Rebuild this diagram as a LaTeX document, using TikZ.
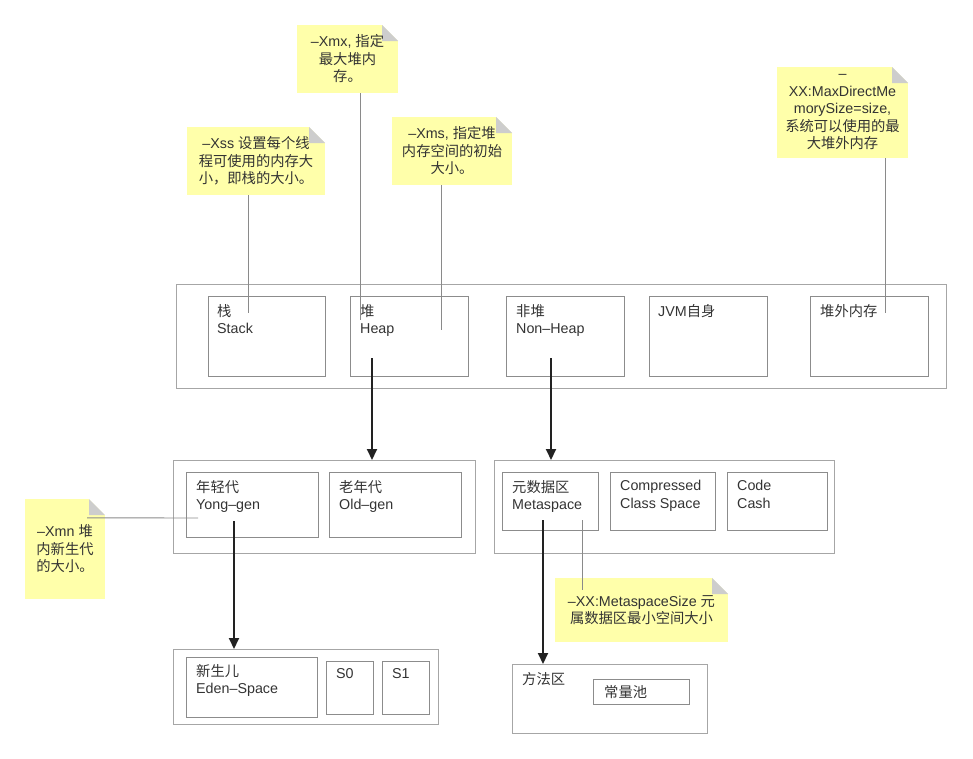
\documentclass[tikz,border=0pt]{standalone}
\usepackage{fontspec}
\setmainfont{Liberation Sans}
\newfontfamily\cjk{Noto Sans CJK SC}
\usetikzlibrary{arrows.meta}

\definecolor{notefill}{HTML}{FFFFAA}
\definecolor{foldgray}{HTML}{CDCDCD}
\definecolor{boxline}{HTML}{8C8C8C}
\definecolor{frameline}{HTML}{A6A6A6}
\definecolor{connline}{HTML}{8A8A8A}
\definecolor{txtcol}{HTML}{333333}
\definecolor{arrowcol}{HTML}{222222}

\tikzset{
  basefont/.style={font=\fontsize{14.3}{17.5}\selectfont, text=txtcol},
  frame/.style={draw=frameline, line width=1.4pt, anchor=north west, inner sep=0pt},
  inbox/.style={draw=boxline, line width=0.9pt, anchor=north west, inner sep=0pt},
  lbl/.style={basefont, anchor=north west, align=left, inner sep=0pt},
  note/.style={basefont, align=center, inner sep=0pt,
    path picture={
      \fill[notefill] (path picture bounding box.south west) rectangle (path picture bounding box.north east);
      \fill[white] ([xshift=-16pt]path picture bounding box.north east) -- (path picture bounding box.north east)
        -- ([yshift=-16pt]path picture bounding box.north east) -- cycle;
      \fill[foldgray] ([xshift=-16pt]path picture bounding box.north east)
        -- ([xshift=-16pt,yshift=-16pt]path picture bounding box.north east)
        -- ([yshift=-16pt]path picture bounding box.north east) -- cycle;
    }},
  conn/.style={draw=connline, line width=0.9pt},
  bigarrow/.style={draw=arrowcol, line width=1.9pt, -{Triangle[length=11pt,width=10pt]}}
}

\begin{document}
\begin{tikzpicture}[x=1pt,y=-1pt]
\useasboundingbox (0,0) rectangle (973,758);

% ---- top row: JVM memory areas ----
\node[frame, minimum width=770, minimum height=104] (top) at (176,284) {};
\node[inbox, minimum width=117, minimum height=80] (stack) at (208,296) {};
\node[inbox, minimum width=118, minimum height=80] (heap) at (350,296) {};
\node[inbox, minimum width=118, minimum height=80] (nonheap) at (506,296) {};
\node[inbox, minimum width=118, minimum height=80] (jvm) at (649,296) {};
\node[inbox, minimum width=118, minimum height=80] (offheap) at (810,296) {};
\node[lbl] (stackT) at ([xshift=9pt,yshift=-8pt]stack.north west) {{\cjk 栈}\\Stack};
\node[lbl] (heapT) at ([xshift=10pt,yshift=-8pt]heap.north west) {{\cjk 堆}\\Heap};
\node[lbl] (nonheapT) at ([xshift=10pt,yshift=-8pt]nonheap.north west) {{\cjk 非堆}\\Non–Heap};
\node[lbl] (jvmT) at ([xshift=9pt,yshift=-8pt]jvm.north west) {JVM{\cjk 自身}};
\node[lbl] (offheapT) at ([xshift=10pt,yshift=-8pt]offheap.north west) {{\cjk 堆外内存}};

% ---- heap generations ----
\node[frame, minimum width=302, minimum height=93] (gens) at (173,460) {};
\node[inbox, minimum width=132, minimum height=65] (young) at (186,472) {};
\node[inbox, minimum width=132, minimum height=65] (old) at (329,472) {};
\node[lbl] (youngT) at ([xshift=10pt,yshift=-8pt]young.north west) {{\cjk 年轻代}\\Yong–gen};
\node[lbl] (oldT) at ([xshift=10pt,yshift=-8pt]old.north west) {{\cjk 老年代}\\Old–gen};

% ---- non-heap areas ----
\node[frame, minimum width=340, minimum height=93] (nonheapAreas) at (494,460) {};
\node[inbox, minimum width=96, minimum height=58] (meta) at (502,472) {};
\node[inbox, minimum width=105, minimum height=58] (ccs) at (610,472) {};
\node[inbox, minimum width=100, minimum height=58] (code) at (727,472) {};
\node[lbl] (metaT) at ([xshift=10pt,yshift=-8pt]meta.north west) {{\cjk 元数据区}\\Metaspace};
\node[lbl] (ccsT) at ([xshift=10pt,yshift=-8pt]ccs.north west) {Compressed\\Class Space};
\node[lbl] (codeT) at ([xshift=10pt,yshift=-8pt]code.north west) {Code\\Cash};

% ---- young generation ----
\node[frame, minimum width=265, minimum height=75] (youngAreas) at (173,649) {};
\node[inbox, minimum width=131, minimum height=60] (eden) at (186,657) {};
\node[inbox, minimum width=47, minimum height=53] (szero) at (326,661) {};
\node[inbox, minimum width=47, minimum height=53] (sone) at (382,661) {};
\node[lbl] (edenT) at ([xshift=10pt,yshift=-7pt]eden.north west) {{\cjk 新生儿}\\Eden–Space};
\node[lbl] (szeroT) at ([xshift=10pt,yshift=-7pt]szero.north west) {S0};
\node[lbl] (soneT) at ([xshift=10pt,yshift=-7pt]sone.north west) {S1};

% ---- method area ----
\node[frame, minimum width=195, minimum height=69] (method) at (512,664) {};
\node[inbox, minimum width=96, minimum height=25] (pool) at (593,679) {};
\node[lbl] (methodT) at ([xshift=10pt,yshift=-8pt]method.north west) {{\cjk 方法区}};
\node[basefont, anchor=west, inner sep=0pt] (poolT) at ([xshift=11pt]pool.west) {{\cjk 常量池}};

% ---- containment arrows ----
\coordinate (a1) at (372,358);
\coordinate (a2) at (551,358);
\coordinate (a3) at (234,521);
\coordinate (a4) at (543,520);
\draw[bigarrow] (a1) -- (a1 |- gens.north);
\draw[bigarrow] (a2) -- (a2 |- nonheapAreas.north);
\draw[bigarrow] (a3) -- (a3 |- youngAreas.north);
\draw[bigarrow] (a4) -- (a4 |- method.north);

% ---- option notes ----
\node[note, minimum width=138, minimum height=68] (nxss) at (256,161)
  {–Xss {\cjk 设置每个线}\\{\cjk 程可使用的内存大}\\{\cjk 小，即栈的大小。}};
\node[note, minimum width=101, minimum height=68] (nxmx) at (347.5,59)
  {–Xmx, {\cjk 指定}\\{\cjk 最大堆内}\\{\cjk 存。}};
\node[note, minimum width=120, minimum height=68] (nxms) at (452,151)
  {–Xms, {\cjk 指定堆}\\{\cjk 内存空间的初始}\\{\cjk 大小。}};
\node[note, minimum width=131, minimum height=91] (nmaxd) at (842.5,112.5)
  {–\\XX:MaxDirectMe\\morySize=size,\\{\cjk 系统可以使用的最}\\{\cjk 大堆外内存}};
\node[note, minimum width=80, minimum height=100] (nxmn) at (65,549)
  {–Xmn {\cjk 堆}\\{\cjk 内新生代}\\{\cjk 的大小。}};
\node[note, minimum width=173, minimum height=64] (nmsz) at (641.5,610)
  {–XX:MetaspaceSize {\cjk 元}\\{\cjk 属数据区最小空间大小}};

% ---- note connectors ----
\coordinate (xssEnd) at (248,313);
\coordinate (xmxEnd) at (360,320);
\coordinate (xmsEnd) at (441,330);
\coordinate (maxdEnd) at (885,313);
\coordinate (xmnEnd) at (198,518);
\coordinate (mszTop) at (582,520);
\coordinate (mszEnd) at (582,590);
\draw[conn] (nxss.south -| xssEnd) -- (xssEnd);
\draw[conn] (nxmx.south -| xmxEnd) -- (xmxEnd);
\draw[conn] (nxms.south -| xmsEnd) -- (xmsEnd);
\draw[conn] (nmaxd.south -| maxdEnd) -- (maxdEnd);
\draw[conn] ([xshift=-18pt,yshift=-19pt]nxmn.north east) -- (xmnEnd);
\draw[conn] (mszTop) -- (mszEnd);
\end{tikzpicture}
\end{document}
